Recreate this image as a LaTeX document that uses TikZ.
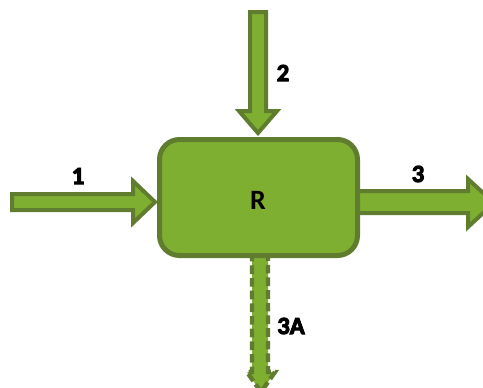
\documentclass[tikz,border=0pt]{standalone}
\usepackage{fontspec}
\setmainfont{Carlito}
\newfontfamily\heavy{Carlito Bold}[FakeBold=4]
\definecolor{leaf}{RGB}{127,175,49}
\definecolor{leafedge}{RGB}{96,124,46}
\begin{document}
\begin{tikzpicture}[x=0.75pt,y=-0.75pt,
  flowarrow/.style={fill=leaf,draw=leafedge,line width=3pt,line join=miter},
  dashedarrow/.style={flowarrow,line width=3.3pt,dash pattern=on 6.5pt off 3pt},
  reactor/.style={fill=leaf,draw=leafedge,line width=3.75pt,rounded corners=15pt},
  streamlabel/.style={font=\heavy\fontsize{18.5}{18.5}\selectfont,inner sep=0pt}]
\useasboundingbox (0,0) rectangle (483,387);
\begin{scope}
\clip (0,0) rectangle (483,387);
% stream 3 (behind the reactor wall)
\draw[flowarrow] (340,191) -- (468,191) -- (468,179) -- (494,203) -- (468,227) -- (468,213) -- (340,213) -- cycle;
% stream 3A, dashed outline
\draw[dashedarrow] (252,240) -- (252,372) -- (247,372) -- (261,392) -- (275,372) -- (268,372) -- (268,240) -- cycle;
% stream 1
\draw[flowarrow] (12,194) -- (133,194) -- (133,181) -- (155,202) -- (133,223) -- (133,210) -- (12,210) -- cycle;
% stream 2
\draw[flowarrow] (250,12) -- (250,111) -- (239,111) -- (258,133) -- (277,111) -- (266,111) -- (266,12) -- cycle;
\end{scope}
% reactor
\draw[reactor] (159.5,139.5) rectangle (357.5,255.5);
\node[font=\bfseries\fontsize{21}{21}\selectfont] (r) at (258,200) {R};
\node[streamlabel] (l1) at (78,176) {1};
\node[streamlabel] (l2) at (283,73) {2};
\node[streamlabel] (l3) at (418,174) {3};
\node[streamlabel] (l3a) at (291,326) {3A};
\end{tikzpicture}
\end{document}
